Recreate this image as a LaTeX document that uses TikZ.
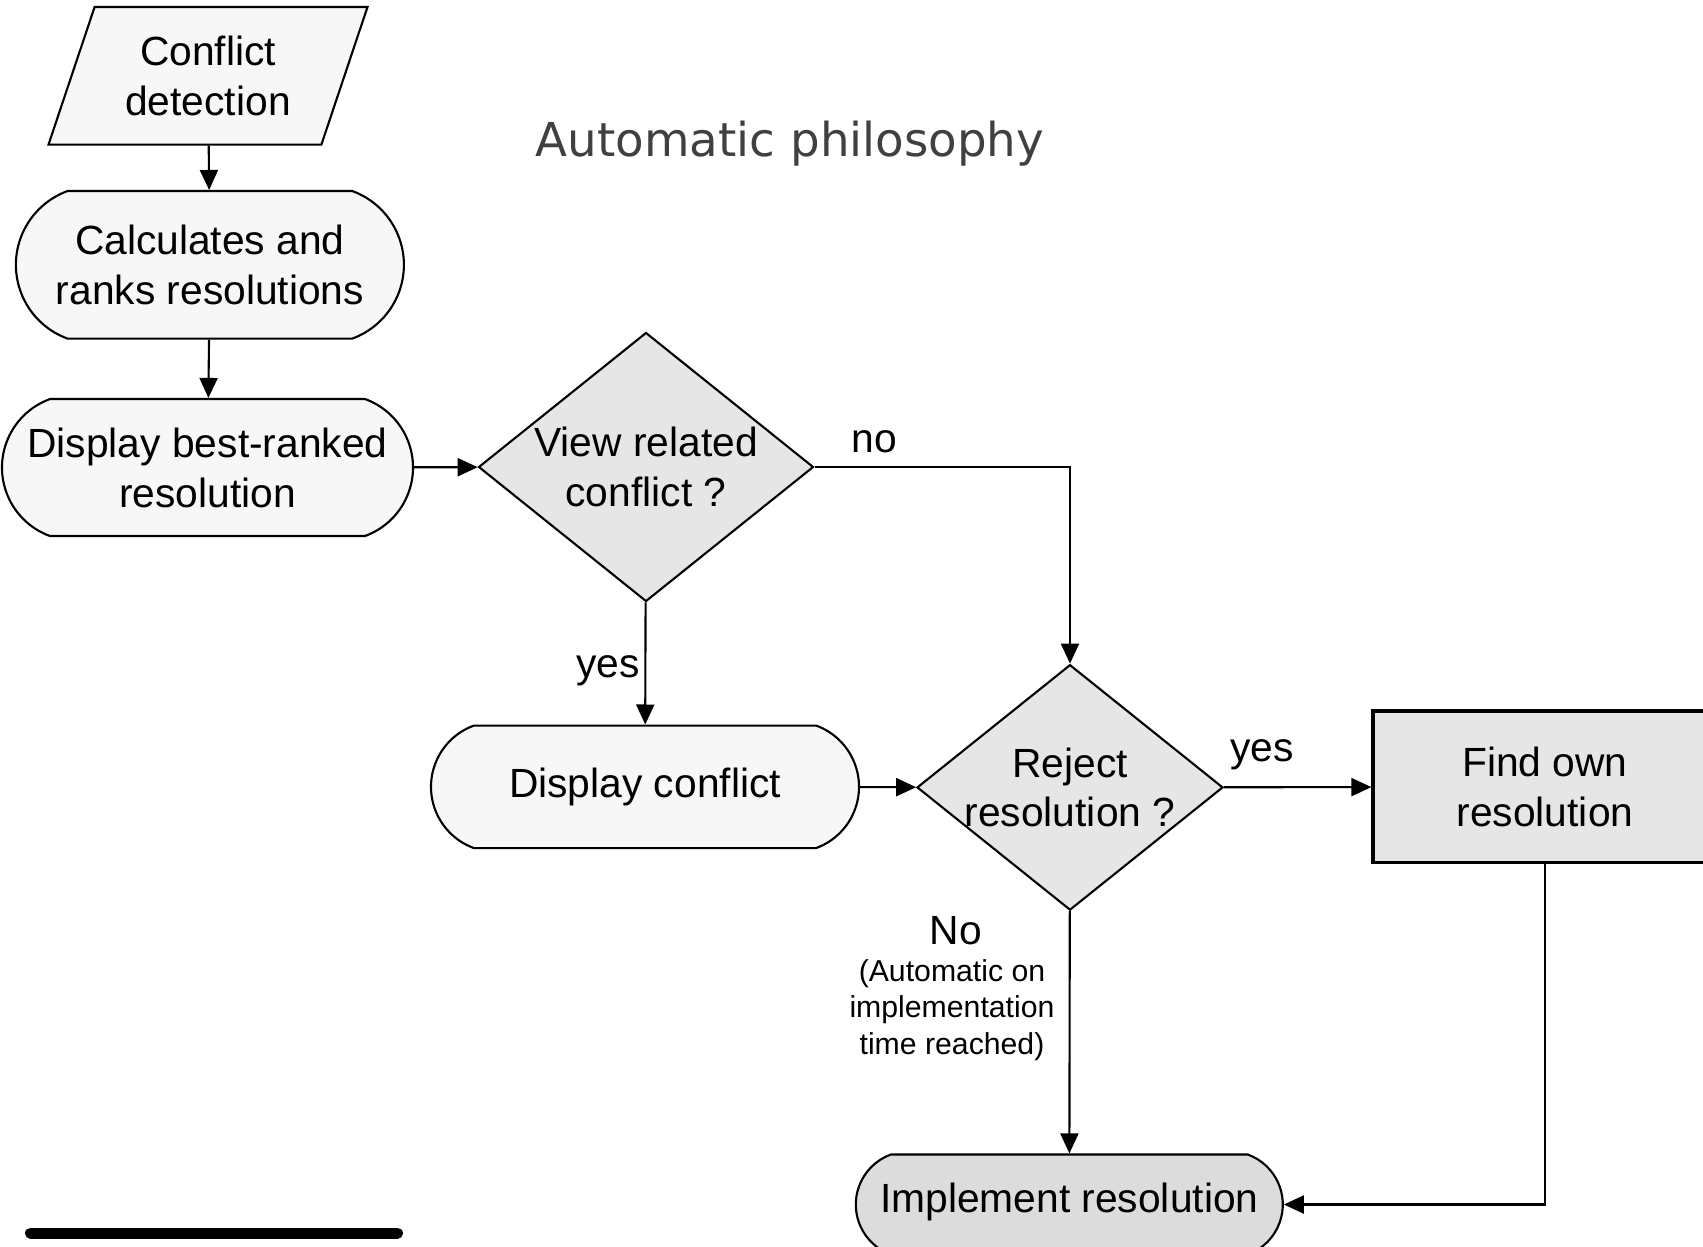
\documentclass[tikz,border=0pt]{standalone}
\usepackage{fontspec}
\setmainfont{Liberation Sans}
\newfontfamily\titlefont{DejaVu Sans}
\usetikzlibrary{shapes.geometric,shapes.misc,arrows.meta}
\definecolor{boxgray}{HTML}{F7F7F7}
\definecolor{decgray}{HTML}{E6E6E6}
\definecolor{impgray}{HTML}{DCDCDC}
\definecolor{titlegray}{HTML}{404040}

\begin{document}
\begin{tikzpicture}[line width=0.6pt,
  txt/.style={font=\fontsize{11.6}{14.2}\selectfont,align=center},
  small/.style={font=\fontsize{8.6}{10.4}\selectfont,align=center},
  term/.style={draw,rounded rectangle,rounded rectangle arc length=140,fill=boxgray,txt,inner sep=0pt},
  decision/.style={draw,diamond,fill=decgray,inner sep=0pt},
  arr/.style={-{Triangle[length=2mm,width=1.8mm]}}]

\useasboundingbox (0,0) rectangle (17.03,-12.46);

%title
\node[font=\titlefont\fontsize{13.3}{15}\selectfont,text=titlegray,anchor=base] (title) at (7.90,-1.567) {Automatic philosophy};

%left column
\node[draw,trapezium,trapezium left angle=60,trapezium right angle=120,trapezium stretches body,fill=boxgray,txt,minimum width=3.19cm,minimum height=1.376cm,inner sep=0pt] (detect) at (2.08,-0.758) {Conflict\\detection};
\node[term,minimum width=3.88cm,minimum height=1.476cm] (calc) at (2.099,-2.648) {Calculates and\\ranks resolutions};
\node[term,minimum width=4.11cm,minimum height=1.37cm] (best) at (2.075,-4.675) {Display best-ranked\\resolution};

%decisions
\node[decision,minimum width=3.35cm,minimum height=2.69cm,label={[txt]center:View related\\conflict ?}] (view) at (6.46,-4.67) {};
\node[term,minimum width=4.28cm,minimum height=1.225cm] (disp) at (6.45,-7.868) {Display conflict};
\node[decision,minimum width=3.06cm,minimum height=2.455cm,label={[txt]center:Reject\\resolution ?}] (reject) at (10.70,-7.874) {};

%right side
\node[draw,rectangle,fill=decgray,txt,line width=0.9pt,minimum width=3.44cm,minimum height=1.517cm] (find) at (15.45,-7.869) {Find own\\resolution};
\node[term,fill=impgray,minimum width=4.27cm,minimum height=1.0cm,label={[txt,yshift=0.03cm]center:Implement resolution}] (impl) at (10.693,-12.045) {};

%labels
\node[txt] (nolab) at (8.74,-4.42) {no};
\node[txt] (yesa) at (6.08,-6.71) {yes};
\node[txt] (yesb) at (12.62,-7.55) {yes};
\node[txt] (Nolab) at (9.56,-9.31) {No};
\node[small] (why) at (9.52,-10.10) {(Automatic on\\implementation\\ time reached)};

\draw[arr] (detect) -- (calc);
\draw[arr] (calc) -- (best);
\draw[arr] (best) -- (view);
\draw[arr] (view.east) -| (reject.north);
\draw[arr] (view) -- (disp);
\draw[arr] (disp) -- (reject);
\draw[arr] (reject) -- (find);
\draw[arr] (reject) -- (impl);
\draw[arr] (find.south) |- (impl.east);

\draw[line width=0.11cm,line cap=round] (0.305,-12.33) -- (3.975,-12.33);
\end{tikzpicture}
\end{document}
